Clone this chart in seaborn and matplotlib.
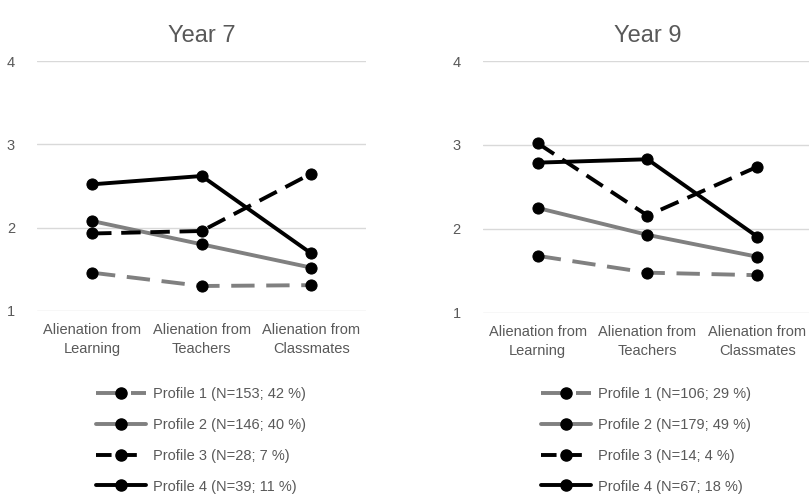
import pandas as pd
import matplotlib.pyplot as plt
import seaborn as sns
from matplotlib.lines import Line2D

# Data
categories = ["Alienation from\nLearning", "Alienation from\nTeachers", "Alienation from\nClassmates"]
profiles = ["Profile 1", "Profile 2", "Profile 3", "Profile 4"]

year7_p1 = [1.46, 1.30, 1.31]
year7_p2 = [2.08, 1.80, 1.52]
year7_p3 = [1.93, 1.96, 2.65]
year7_p4 = [2.52, 2.62, 1.69]

year9_p1 = [1.68, 1.48, 1.45]
year9_p2 = [2.25, 1.93, 1.67]
year9_p3 = [3.02, 2.16, 2.74]
year9_p4 = [2.79, 2.83, 1.91]

year7_labels = ["Profile 1 (N=153; 42 %)", "Profile 2 (N=146; 40 %)",
                "Profile 3 (N=28; 7 %)", "Profile 4 (N=39; 11 %)"]
year9_labels = ["Profile 1 (N=106; 29 %)", "Profile 2 (N=179; 49 %)",
                "Profile 3 (N=14; 4 %)", "Profile 4 (N=67; 18 %)"]

sns.set_style("white")
plt.rcParams["font.family"] = ["Liberation Sans", "DejaVu Sans"]

text_col = "#595959"
colors = ["#808080", "#808080", "#000000", "#000000"]
dashes = [(6, 3), "", (5, 2.5), ""]
legend_dashes = [(6, 3), "", (4, 2.5), ""]


def make_df(series):
    rows = []
    for prof, vals in zip(profiles, series):
        for cat, v in zip(categories, vals):
            rows.append({"category": cat, "profile": prof, "value": v})
    return pd.DataFrame(rows)


fig = plt.figure(figsize=(8.09, 4.96), dpi=100)
ax1 = fig.add_axes([0.046, 0.373, 0.4067, 0.504])
ax2 = fig.add_axes([0.597, 0.369, 0.4067, 0.508])

panels = [
    (ax1, "Year 7", [year7_p1, year7_p2, year7_p3, year7_p4], year7_labels, (0.110, 0.234)),
    (ax2, "Year 9", [year9_p1, year9_p2, year9_p3, year9_p4], year9_labels, (0.660, 0.234)),
]

for ax, title, series, labels, leg_pos in panels:
    df = make_df(series)
    sns.lineplot(data=df, x="category", y="value", hue="profile", style="profile",
                 palette=colors, dashes=dashes, markers=["o"] * 4, markersize=8,
                 markerfacecolor="black", markeredgecolor="black",
                 linewidth=2.8, legend=False, ax=ax)
    ax.set_xlim(-0.5, 2.5)
    ax.set_ylim(1, 4)
    ax.set_yticks([1, 2, 3, 4])
    ax.grid(axis="y", color="#d9d9d9", linewidth=1)
    ax.set_axisbelow(True)
    for s in ax.spines.values():
        s.set_visible(False)
    ax.set_xlabel("")
    ax.set_ylabel("")
    ax.set_title(title, fontsize=17, color=text_col, pad=14)
    ax.tick_params(axis="y", length=0, pad=16, labelsize=10.5, labelcolor=text_col)
    ax.tick_params(axis="x", length=0, pad=9, labelsize=10.5, labelcolor=text_col)
    for lab in ax.get_xticklabels():
        lab.set_linespacing(1.45)

    handles = []
    for c, d in zip(colors, legend_dashes):
        ls = (0, d) if d else "-"
        handles.append(Line2D([], [], color=c, linestyle=ls, linewidth=2.8,
                              marker="o", markersize=8, markerfacecolor="black",
                              markeredgecolor="black"))
    fig.legend(handles, labels, loc="upper left", bbox_to_anchor=leg_pos,
               bbox_transform=fig.transFigure, frameon=False, fontsize=10.5,
               labelcolor=text_col, handlelength=3.4, handletextpad=0.5,
               labelspacing=1.15, borderpad=0)

fig.savefig("out.png", dpi=100)
